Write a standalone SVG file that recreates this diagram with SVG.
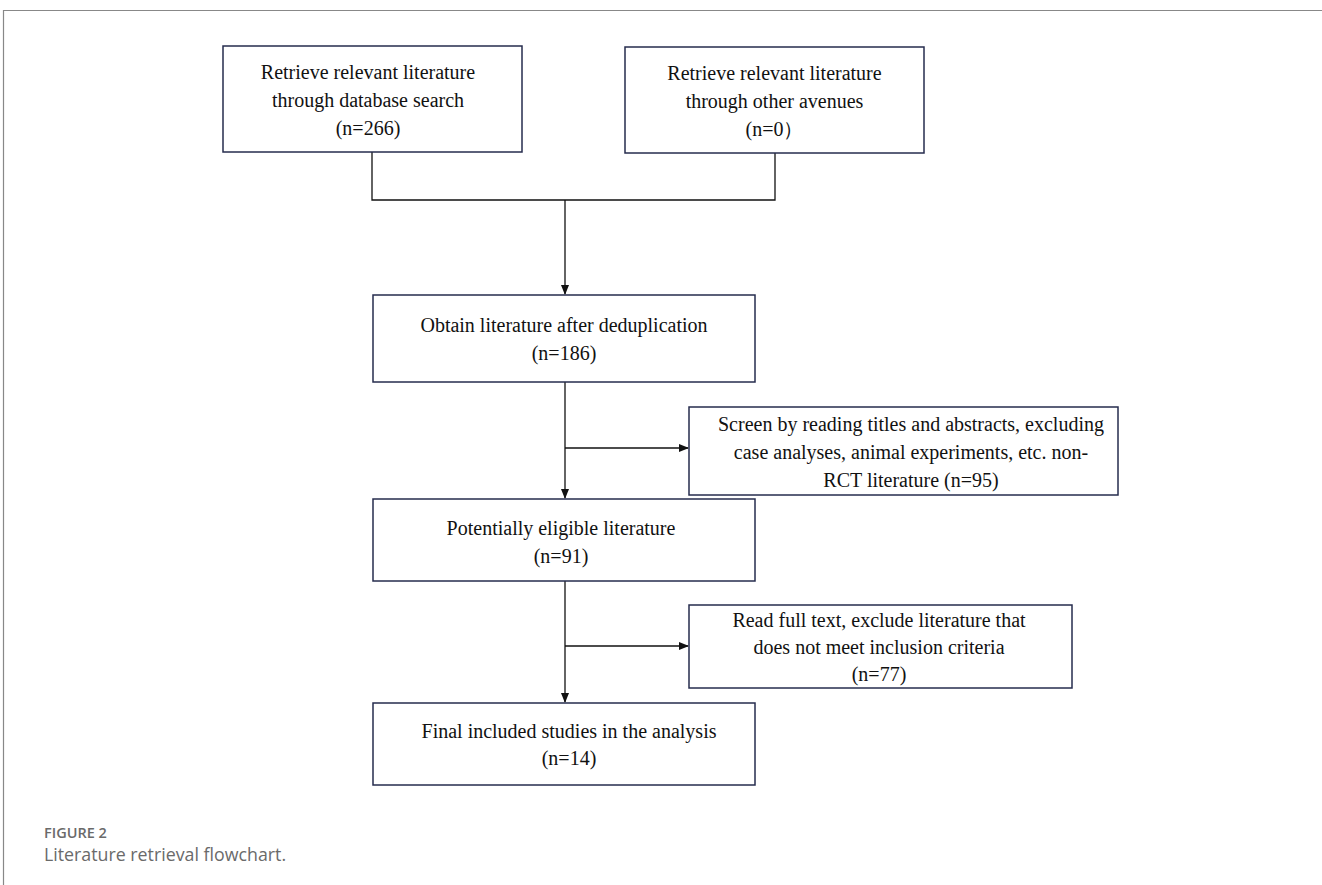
<svg xmlns="http://www.w3.org/2000/svg" width="1322" height="885" viewBox="0 0 1322 885">
<style>
.box{fill:#fff;stroke:#262c4e;stroke-width:1.5}
.t{font-family:"Liberation Serif","Times New Roman",serif;font-size:20px;fill:#111;text-anchor:middle}
.ln{fill:none;stroke:#111;stroke-width:1.3}
.frame{fill:none;stroke:#888;stroke-width:1.2}
.cap{font-family:"Open Sans","Noto Sans",sans-serif;fill:#6a6a6a}
</style>
<defs>
<marker id="ah" markerWidth="10" markerHeight="10" refX="9" refY="5" orient="auto" markerUnits="userSpaceOnUse">
<path d="M0,1 L10,5 L0,9 Z" fill="#111"/>
</marker>
</defs>
<rect width="1322" height="885" fill="#fff"/>
<path class="frame" d="M3.5,885 V10.5 H1322"/>
<g id="connectors">
<path class="ln" d="M372,152 V200 H775 V153"/>
<path class="ln" d="M565,200 V294" marker-end="url(#ah)"/>
<path class="ln" d="M565,382 V498" marker-end="url(#ah)"/>
<path class="ln" d="M565,448 H688" marker-end="url(#ah)"/>
<path class="ln" d="M565,581 V702" marker-end="url(#ah)"/>
<path class="ln" d="M565,646 H688" marker-end="url(#ah)"/>
</g>
<g id="n1">
<rect class="box" x="223" y="46" width="299" height="106"/>
<text class="t" x="368" y="79">Retrieve relevant literature</text>
<text class="t" x="368" y="107">through database search</text>
<text class="t" x="368" y="135">(n=266)</text>
</g>
<g id="n2">
<rect class="box" x="625" y="47" width="299" height="106"/>
<text class="t" x="774.5" y="80">Retrieve relevant literature</text>
<text class="t" x="774.5" y="108">through other avenues</text>
<text class="t" x="774.5" y="136">(n=0）</text>
</g>
<g id="n3">
<rect class="box" x="373" y="295" width="382" height="87"/>
<text class="t" x="564" y="332">Obtain literature after deduplication</text>
<text class="t" x="564" y="360">(n=186)</text>
</g>
<g id="n4">
<rect class="box" x="689" y="407" width="429" height="88"/>
<text class="t" x="911" y="431">Screen by reading titles and abstracts, excluding</text>
<text class="t" x="911" y="459">case analyses, animal experiments, etc. non-</text>
<text class="t" x="911" y="487">RCT literature (n=95)</text>
</g>
<g id="n5">
<rect class="box" x="373" y="499" width="382" height="82"/>
<text class="t" x="561" y="535">Potentially eligible literature</text>
<text class="t" x="561" y="563">(n=91)</text>
</g>
<g id="n6">
<rect class="box" x="689" y="605" width="383" height="83"/>
<text class="t" x="879" y="627">Read full text, exclude literature that</text>
<text class="t" x="879" y="654">does not meet inclusion criteria</text>
<text class="t" x="879" y="681">(n=77)</text>
</g>
<g id="n7">
<rect class="box" x="373" y="703" width="382" height="82"/>
<text class="t" x="569" y="738">Final included studies in the analysis</text>
<text class="t" x="569" y="765">(n=14)</text>
</g>
<g id="caption">
<text class="cap" x="44" y="838" font-size="14.5" font-weight="600">FIGURE 2</text>
<text class="cap" x="44" y="861" font-size="17.8">Literature retrieval flowchart.</text>
</g>
</svg>
